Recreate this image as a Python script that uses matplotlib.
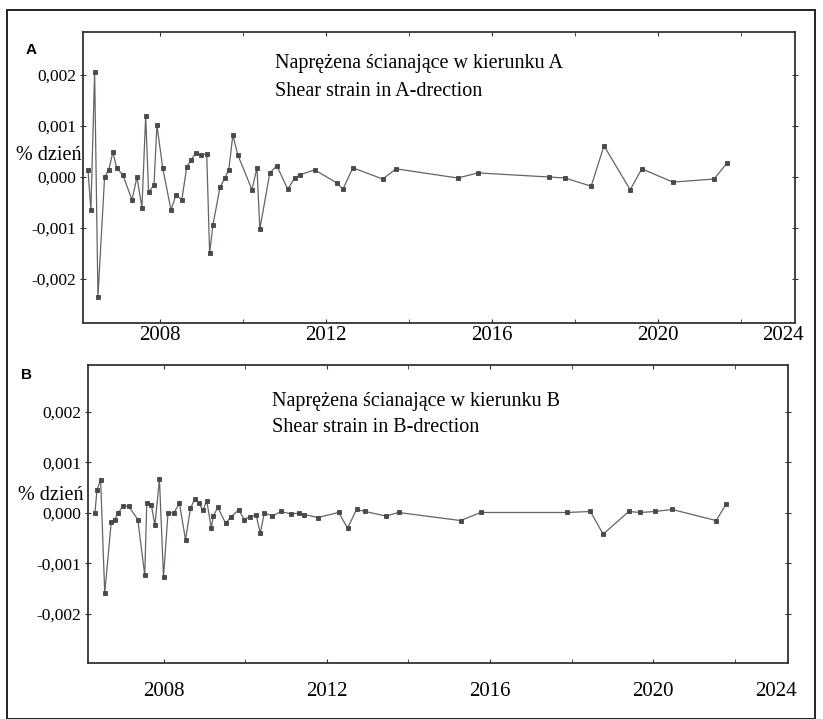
import numpy as np
import matplotlib
matplotlib.use('Agg')
import matplotlib.pyplot as plt
from matplotlib.patches import Rectangle
from matplotlib.ticker import FixedLocator, FixedFormatter, MultipleLocator

# shear strain, direction A  (year, % per day)
yearsA = [2006.27, 2006.34, 2006.43, 2006.51, 2006.67, 2006.77, 2006.87, 2006.96, 2007.11, 2007.33,
          2007.45, 2007.57, 2007.66, 2007.73, 2007.86, 2007.93, 2008.07, 2008.27, 2008.39, 2008.53,
          2008.65, 2008.75, 2008.87, 2008.99, 2009.13, 2009.20, 2009.28, 2009.45, 2009.57, 2009.66,
          2009.76, 2009.88, 2010.22, 2010.34, 2010.41, 2010.65, 2010.82, 2011.08, 2011.25, 2011.37,
          2011.73, 2012.27, 2012.41, 2012.65, 2013.37, 2013.69, 2015.18, 2015.66, 2017.37, 2017.76,
          2018.39, 2018.70, 2019.33, 2019.61, 2020.36, 2021.35, 2021.66]
strainA = [0.00014, -0.00065, 0.00206, -0.00235, 0.0, 0.00014, 0.00049, 0.00018, 0.00004, -0.00045,
           0.0, -0.0006, 0.0012, -0.0003, -0.00016, 0.00102, 0.00018, -0.00065, -0.00035, -0.00045,
           0.0002, 0.00033, 0.00047, 0.00043, 0.00045, -0.00149, -0.00094, -0.0002, -0.00002, 0.00014,
           0.00082, 0.00043, -0.00025, 0.00018, -0.00102, 0.00008, 0.00022, -0.00024, -0.00002, 0.00004,
           0.00014, -0.00012, -0.00024, 0.00018, -0.00004, 0.00016, -0.00002, 0.00008, 0.0, -0.00002,
           -0.00018, 0.00061, -0.00025, 0.00016, -0.0001, -0.00004, 0.00027]

# shear strain, direction B
yearsB = [2006.32, 2006.37, 2006.46, 2006.56, 2006.72, 2006.80, 2006.89, 2007.01, 2007.15, 2007.37,
          2007.54, 2007.59, 2007.70, 2007.79, 2007.90, 2008.00, 2008.11, 2008.25, 2008.39, 2008.54,
          2008.66, 2008.76, 2008.87, 2008.96, 2009.06, 2009.17, 2009.22, 2009.33, 2009.52, 2009.66,
          2009.84, 2009.98, 2010.11, 2010.27, 2010.37, 2010.47, 2010.67, 2010.88, 2011.12, 2011.33,
          2011.45, 2011.78, 2012.29, 2012.51, 2012.73, 2012.94, 2013.45, 2013.76, 2015.28, 2015.77,
          2017.89, 2018.46, 2018.77, 2019.40, 2019.68, 2020.05, 2020.46, 2021.54, 2021.78]
strainB = [0.0, 0.00046, 0.00065, -0.00159, -0.00017, -0.00013, 0.0, 0.00014, 0.00013, -0.00013,
           -0.00123, 0.0002, 0.00016, -0.00024, 0.00067, -0.00127, 0.0, 0.0, 0.00019, -0.00053,
           0.00009, 0.00027, 0.0002, 0.00005, 0.00024, -0.0003, -0.00006, 0.00011, -0.0002, -0.00007,
           0.00006, -0.00013, -0.00007, -0.00004, -0.0004, 0.0, -0.00006, 0.00003, -0.00002, 0.0,
           -0.00003, -0.00009, 0.00001, -0.0003, 0.00007, 0.00003, -0.00006, 0.00001, -0.00015, 0.00001,
           0.00001, 0.00003, -0.00042, 0.00003, 0.00001, 0.00003, 0.00007, -0.00015, 0.00017]

ytick_vals = [-0.002, -0.001, 0.0, 0.001, 0.002]
ytick_text = ['-0,002', '-0,001', '0,000', '0,001', '0,002']
xlabel_years = [2008, 2012, 2016, 2020]
last_label = '2024'

titlesA = ['Naprężena ścianające w kierunku A', 'Shear strain in A-drection']
titlesB = ['Naprężena ścianające w kierunku B', 'Shear strain in B-drection']

serif = ['Liberation Serif', 'DejaVu Serif']
W, H = 823, 719
fig = plt.figure(figsize=(W / 100, H / 100), dpi=100)
fig.patch.set_facecolor('white')

# outer frame of the picture
fig.patches.append(Rectangle((7 / W, 0), 808 / W, 1 - 10 / H, transform=fig.transFigure,
                             fill=False, ec='#222222', lw=1.4))


def panel(rect, yrs, vals, titles, tx, ty, ylim, xpad, letter, letter_xy, dzien_xy):
	ax = fig.add_axes(rect)
	ax.plot(yrs, vals, color='#6a6262', lw=0.9, marker='s', ms=2.3,
		mfc='#4a4a4a', mec='#444444', mew=0.6)
	ax.set_xlim(2006.15, 2023.3)
	ax.set_ylim(*ylim)
	ax.yaxis.set_major_locator(FixedLocator(ytick_vals))
	ax.yaxis.set_major_formatter(FixedFormatter(ytick_text))
	ax.xaxis.set_major_locator(FixedLocator(xlabel_years))
	ax.xaxis.set_minor_locator(MultipleLocator(2))
	for s in ax.spines.values():
		s.set_color('#333333')
		s.set_linewidth(1.3)
	ax.tick_params(axis='x', which='both', direction='in', length=3, top=True,
		color='#333333', pad=xpad)
	ax.tick_params(axis='y', which='both', direction='inout', length=4, right=True,
		color='#333333', pad=3)
	for lab in ax.get_xticklabels():
		lab.set_family(serif)
		lab.set_fontsize(15)
	for lab in ax.get_yticklabels():
		lab.set_family(serif)
		lab.set_fontsize(12.5)
	ax.annotate(last_label, xy=(2023.0, 0), xycoords=('data', 'axes fraction'),
		xytext=(0, -xpad), textcoords='offset points', ha='center', va='top',
		family=serif, fontsize=15, annotation_clip=False)
	ax.text(tx, ty[0], titles[0], transform=ax.transAxes, family=serif, fontsize=14.5,
		va='center', ha='left')
	ax.text(tx, ty[1], titles[1], transform=ax.transAxes, family=serif, fontsize=14.5,
		va='center', ha='left')
	fig.text(letter_xy[0], letter_xy[1], letter, family=['Liberation Sans', 'DejaVu Sans'],
		fontsize=11, fontweight='bold', ha='center', va='center')
	fig.text(dzien_xy[0], dzien_xy[1], '% dzień', family=serif, fontsize=14.5,
		ha='right', va='center')
	return ax


panel([83 / W, 1 - 323 / H, 712 / W, 291 / H], yearsA, strainA, titlesA, 0.27, (0.893, 0.797),
	(-0.00286, 0.00284), 2, 'A', (31 / W, 1 - 50 / H), (81 / W, 1 - 155 / H))
panel([88 / W, 1 - 663 / H, 700 / W, 298 / H], yearsB, strainB, titlesB, 0.263, (0.876, 0.789),
	(-0.00297, 0.00293), 14, 'B', (27 / W, 1 - 375 / H), (83 / W, 1 - 496 / H))

fig.savefig('out.png', dpi=100, facecolor='white')
